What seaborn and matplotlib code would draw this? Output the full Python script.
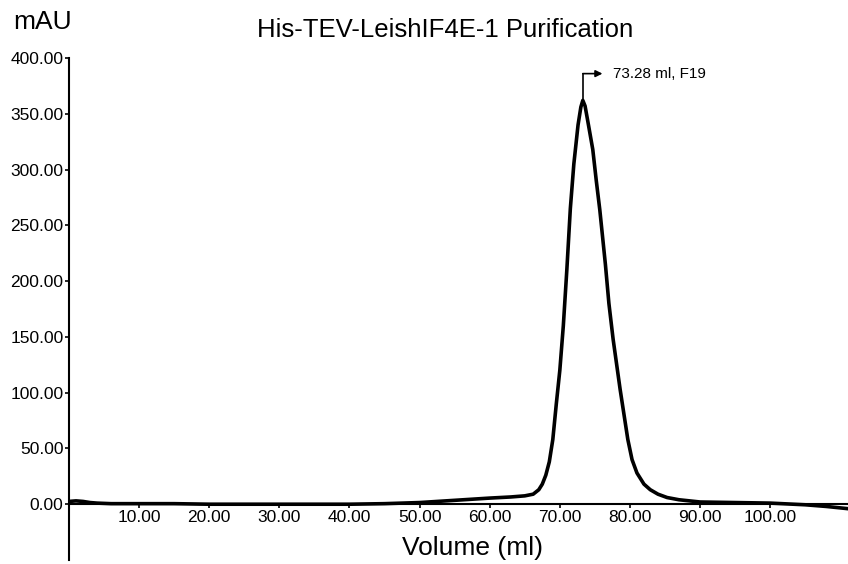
import matplotlib
matplotlib.use("Agg")
import matplotlib.pyplot as plt
import seaborn as sns
import pandas as pd

volume = [0, 1, 2, 3, 4, 6, 10, 15, 20, 25, 30, 35, 40, 45, 50, 55, 60, 63, 65,
          66.2, 67, 67.5, 68, 68.5, 69, 69.5, 70, 70.5, 71, 71.5, 72, 72.6, 73.0, 73.28,
          73.6, 74, 74.7, 75.2, 75.7, 76.5, 77, 77.6, 78.6, 79.7, 80.3, 81, 82, 82.9,
          84, 85.3, 87, 90, 95, 100, 105, 108, 111.1]
absorbance = [2.5, 3, 2.5, 1.5, 1, 0.5, 0.5, 0.5, 0, 0, 0, 0, 0, 0.5, 1.5, 3.5, 5.5, 6.5, 7.5,
              9, 13, 18, 26, 38, 58, 90, 120, 160, 210, 265, 305, 340, 356, 362,
              357, 343, 318, 290, 264, 215, 180, 148, 103, 58, 40, 28, 18, 13,
              9, 6, 4, 2, 1.5, 1, -0.5, -2, -4]
x_ticks = [10, 20, 30, 40, 50, 60, 70, 80, 90, 100]
y_ticks = [0, 50, 100, 150, 200, 250, 300, 350, 400]
title = "His-TEV-LeishIF4E-1 Purification"
peak_volume = 73.28
peak_value = 362
peak_label = "73.28 ml, F19"

sns.set_style("ticks")
plt.rcParams["font.family"] = ["Liberation Sans", "DejaVu Sans"]
plt.rcParams["text.color"] = "black"

df = pd.DataFrame({"Volume": volume, "mAU": absorbance})

fig = plt.figure(figsize=(8.48, 5.64), dpi=100)
ax = fig.add_axes([69/848, 1 - 560/564, 1 - 69/848, (560 - 58)/564])
sns.lineplot(data=df, x="Volume", y="mAU", ax=ax, color="black", linewidth=2.6, sort=False)

ax.set_xlim(0, 111.1)
ax.set_ylim(-50, 400)
ax.spines["right"].set_visible(False)
ax.spines["top"].set_visible(False)
ax.spines["bottom"].set_position(("data", 0))
ax.spines["left"].set_linewidth(1.5)
ax.spines["bottom"].set_linewidth(1.5)
ax.spines["left"].set_color("black")
ax.spines["bottom"].set_color("black")
ax.set_xticks(x_ticks)
ax.set_xticklabels([f"{v:.2f}" for v in x_ticks])
ax.set_yticks(y_ticks)
ax.set_yticklabels([f"{v:.2f}" for v in y_ticks])
ax.tick_params(axis="both", labelsize=12.5, length=3, width=1.2, pad=1, colors="black")
ax.set_xlabel("")
ax.set_ylabel("")

# peak annotation
ax.annotate("", xy=(peak_volume + 2.8, peak_value + 24), xytext=(peak_volume, peak_value + 24),
            arrowprops=dict(arrowstyle="-|>", color="black", lw=1.2, mutation_scale=10,
                            shrinkA=0, shrinkB=0))
ax.plot([peak_volume, peak_volume], [peak_value, peak_value + 24], color="black", lw=1.2)
ax.text(peak_volume + 4.3, peak_value + 24, peak_label, fontsize=11, va="center", ha="left",
        color="black")

fig.text(43/848, 1 - 22/564, "mAU", fontsize=19, ha="center", va="center", color="black")
fig.text(445/848, 1 - 30/564, title, fontsize=18.5, ha="center", va="center", color="black")
fig.text(472/848, 1 - 548/564, "Volume (ml)", fontsize=19, ha="center", va="center", color="black")

fig.savefig("out.png", dpi=100)
